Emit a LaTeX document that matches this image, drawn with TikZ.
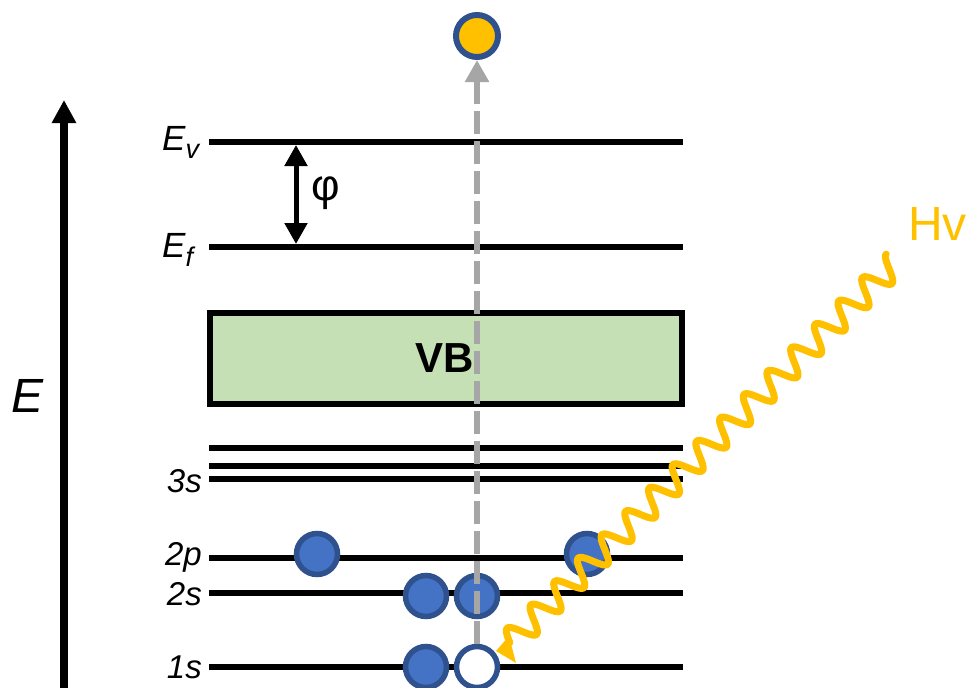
\documentclass[tikz,border=0pt]{standalone}
\usepackage{fontspec}
\setmainfont{Liberation Sans}
\usetikzlibrary{arrows.meta}
\definecolor{efill}{HTML}{4472C4}
\definecolor{eline}{HTML}{2F528F}
\definecolor{gold}{HTML}{FFC000}
\definecolor{dgray}{HTML}{A6A6A6}
\definecolor{vbgreen}{HTML}{C5E0B4}
\newcommand\setfs[1]{\fontsize{#1}{#1}\selectfont}
\tikzset{
  level/.style={line width=6.5pt, black},
  electron/.style={circle, draw=eline, line width=5.5pt, fill=efill, minimum size=41pt, inner sep=0pt},
  hole/.style={electron, fill=white},
  photo/.style={electron, fill=gold, line width=6pt, minimum size=42pt},
  lvl/.style={inner sep=0pt, font=\setfs{33}\itshape, anchor=base east},
  elbl/.style={inner sep=0pt, anchor=base west},
  emission/.style={draw=dgray, line width=6pt, dash pattern=on 23pt off 7pt, -{Triangle[width=23pt,length=22pt]}},
  workfn/.style={line width=5pt, {Triangle[width=22pt,length=21pt]}-{Triangle[width=22pt,length=21pt]}},
  axis/.style={line width=8pt, -{Triangle[width=23pt,length=23pt]}},
  photon/.style={draw=gold, line width=7pt, line cap=round, line join=round},
}
\begin{document}
\begin{tikzpicture}[x=1pt,y=-1pt]
\useasboundingbox (0,0) rectangle (967,688);

% energy axis
\coordinate (axbot) at (64,690);
\coordinate (axtop) at (64,100);
\draw[axis] (axbot) -- (axtop);
\node[inner sep=0pt, anchor=base, font=\setfs{48}\itshape] (elabel) at (28,412) {E};

% levels
\draw[level] (209,142) -- (683,142);
\draw[level] (209,247) -- (683,247);
\draw[level] (209,448) -- (683,448);
\draw[level] (209,466) -- (683,466);
\draw[level] (209,479) -- (683,479);
\draw[level] (209,558) -- (683,558);
\draw[level] (209,593) -- (683,593);
\draw[level] (209,667) -- (683,667);

% labels
\node[elbl] (lev) at (162,150) {\setfs{35}\itshape E\raisebox{-8pt}{\setfs{27}v}};
\node[elbl] (lef) at (162,257) {\setfs{35}\itshape E\raisebox{-9pt}{\setfs{27}f}};
\node[lvl] (l3s) at (202,492) {3s};
\node[lvl] (l2p) at (202,565) {2p};
\node[lvl] (l2s) at (202,605) {2s};
\node[lvl] (l1s) at (202,678) {1s};

% work function
\coordinate (phitop) at (296,145);
\coordinate (phibot) at (296,244);
\draw[workfn] (phitop) -- (phibot);
\node[inner sep=0pt, font=\setfs{44}] (phi) at (326,193) {φ};

% valence band
\node[draw=black, line width=6pt, fill=vbgreen, minimum width=472pt, minimum height=91.5pt, inner sep=0pt, outer sep=0pt, anchor=north west] (vb) at (210,312.5) {};
\node[inner sep=0pt, font=\setfs{42}\bfseries] (vbt) at (445,358) {VB};

% electrons
\node[electron] (p1) at (317,554) {};
\node[electron] (p2) at (587,554) {};
\node[electron] (s2a) at (426,596) {};
\node[electron] (s2b) at (477,596) {};
\node[electron] (s1a) at (426,667) {};
\node[hole] (s1b) at (477,667) {};
\node[photo] (out) at (477,36) {};

% emitted electron path
\draw[emission] (s1b.north) -- (out.south);

% photon
\coordinate (wstart) at (895,263);
\coordinate (wend) at (510,643);
\draw[photon] plot[domain=0:1, samples=800, smooth]
  ({895-385*\x+12.5*0.7024*sin(-90+\x*16.25*360)}, {263+380*\x+12.5*0.7116*sin(-90+\x*16.25*360)});
\fill[gold] (496,651) -- (509,636) -- (516,663) -- cycle;
\node[inner sep=0pt, anchor=base east, text=gold, font=\setfs{48}] (hv) at (967,240) {Hv};
\end{tikzpicture}
\end{document}
